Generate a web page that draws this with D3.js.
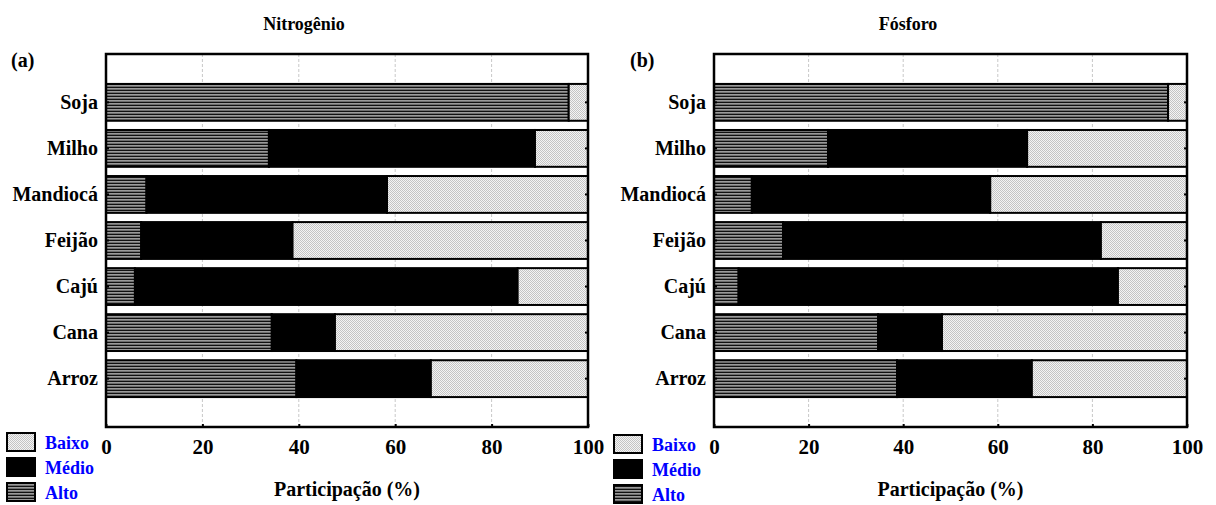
<!DOCTYPE html>
<html>
<head>
<meta charset="utf-8">
<script src="https://cdn.jsdelivr.net/npm/d3@7"></script>
<style>
  html, body { margin: 0; padding: 0; background: #fff; }
  svg text { font-family: "Liberation Serif", "DejaVu Serif", "Times New Roman", serif !important; font-weight: bold; }
</style>
</head>
<body>
<svg id="chart" width="1216" height="505"></svg>
<script>
// Culturas (de cima para baixo)
const culturas = ["Soja", "Milho", "Mandiocá", "Feijão", "Cajú", "Cana", "Arroz"];
const classes = ["Alto", "Médio", "Baixo"];
const legendaOrdem = ["Baixo", "Médio", "Alto"];
const ticksX = [0, 20, 40, 60, 80, 100];

// Participação (%) por classe — Nitrogênio
const nitroAlto  = [96, 33.8, 8.4, 7.3, 6.0, 34.4, 39.5];
const nitroMedio = [0, 55.2, 49.9, 31.4, 79.4, 13.1, 27.9];
const nitroBaixo = [4, 11.0, 41.7, 61.3, 14.6, 52.5, 32.6];

// Participação (%) por classe — Fósforo
const fosAlto  = [96, 24.1, 8.0, 14.6, 5.2, 34.7, 38.7];
const fosMedio = [0, 42.1, 50.4, 67.2, 80.2, 13.5, 28.5];
const fosBaixo = [4, 33.8, 41.6, 18.2, 14.6, 51.8, 32.8];

const FONTE = "'Liberation Serif', 'DejaVu Serif', 'Times New Roman', serif";

const svg = d3.select("#chart");
const defs = svg.append("defs");

// Hachura horizontal (Alto)
const pAlto = defs.append("pattern").attr("id", "padAlto")
  .attr("patternUnits", "userSpaceOnUse").attr("width", 4).attr("height", 3);
pAlto.append("rect").attr("width", 4).attr("height", 1).attr("y", 0).attr("fill", "#111");
pAlto.append("rect").attr("width", 4).attr("height", 1).attr("y", 1).attr("fill", "#9a9a9a");
pAlto.append("rect").attr("width", 4).attr("height", 1).attr("y", 2).attr("fill", "#6e6e6e");

// Pontilhado claro (Baixo)
const pBaixo = defs.append("pattern").attr("id", "padBaixo")
  .attr("patternUnits", "userSpaceOnUse").attr("width", 2).attr("height", 2);
pBaixo.append("rect").attr("width", 2).attr("height", 2).attr("fill", "#f4f4f4");
pBaixo.append("rect").attr("width", 1).attr("height", 1).attr("x", 0).attr("y", 0).attr("fill", "#c4c4c4");
pBaixo.append("rect").attr("width", 1).attr("height", 1).attr("x", 1).attr("y", 1).attr("fill", "#c4c4c4");

const preenchimento = { "Alto": "url(#padAlto)", "Médio": "#000", "Baixo": "url(#padBaixo)" };

function painel(cfg) {
  const g = svg.append("g");
  const x = d3.scaleLinear().domain([0, 100]).range([cfg.x0, cfg.x1]);
  const y = d3.scaleBand().domain(culturas).range([cfg.y0, cfg.y1])
    .paddingInner(0.2).paddingOuter(0.65);

  // Linhas de grade
  g.append("g").selectAll("line").data(ticksX.slice(1, -1)).join("line")
    .attr("x1", d => x(d)).attr("x2", d => x(d))
    .attr("y1", cfg.y0).attr("y2", cfg.y1)
    .attr("stroke", "#c8c8c8").attr("stroke-width", 1)
    .attr("stroke-dasharray", "3,2");

  // Barras empilhadas
  const linhas = culturas.map((c, i) => ({
    cultura: c, Alto: cfg.alto[i], "Médio": cfg.medio[i], Baixo: cfg.baixo[i]
  }));
  const pilha = d3.stack().keys(classes)(linhas);
  g.append("g").selectAll("g").data(pilha).join("g")
    .attr("fill", s => preenchimento[s.key])
    .selectAll("rect").data(s => s.filter(d => d[1] - d[0] > 0)).join("rect")
    .attr("x", d => x(d[0]))
    .attr("width", d => x(d[1]) - x(d[0]))
    .attr("y", d => y(d.data.cultura))
    .attr("height", y.bandwidth())
    .attr("stroke", "#000").attr("stroke-width", 2);

  // Moldura
  g.append("rect").attr("x", cfg.x0).attr("y", cfg.y0)
    .attr("width", cfg.x1 - cfg.x0).attr("height", cfg.y1 - cfg.y0)
    .attr("fill", "none").attr("stroke", "#000").attr("stroke-width", 2.5);

  // Eixo X (marcas internas curtas)
  const eixoX = g.append("g").attr("transform", `translate(0,${cfg.y1})`)
    .call(d3.axisBottom(x).tickValues(ticksX).tickSize(-3).tickPadding(12).tickFormat(d3.format("d")));
  eixoX.attr("font-family", FONTE);
  eixoX.select(".domain").remove();
  eixoX.selectAll("line").attr("stroke", "#000").attr("stroke-width", 2);
  eixoX.selectAll("text").attr("font-size", 21).attr("fill", "#000").attr("font-weight", "bold");

  // Eixo Y (categorias)
  const eixoY = g.append("g").attr("transform", `translate(${cfg.x0},0)`)
    .call(d3.axisLeft(y).tickSize(-3).tickPadding(8));
  eixoY.attr("font-family", FONTE);
  eixoY.select(".domain").remove();
  eixoY.selectAll("line").attr("stroke", "#000").attr("stroke-width", 2);
  eixoY.selectAll("text").attr("font-size", 20).attr("fill", "#000").attr("font-weight", "bold");
  const espelho = g.append("g").attr("transform", `translate(${cfg.x1},0)`)
    .call(d3.axisRight(y).tickSize(-3).tickFormat(""));
  espelho.select(".domain").remove();
  espelho.selectAll("line").attr("stroke", "#000").attr("stroke-width", 2);

  // Títulos
  g.append("text").attr("x", cfg.tituloX).attr("y", 30)
    .attr("text-anchor", "middle").attr("font-size", 18).text(cfg.titulo);
  g.append("text").attr("x", cfg.letraX).attr("y", 67)
    .attr("font-size", 20).text(cfg.letra);
  g.append("text").attr("x", (cfg.x0 + cfg.x1) / 2).attr("y", 496)
    .attr("text-anchor", "middle").attr("font-size", 20).text("Participação (%)");

  // Legenda
  const leg = g.append("g");
  legendaOrdem.forEach((k, i) => {
    const yy = cfg.legY + i * 25;
    leg.append("rect").attr("x", cfg.legX).attr("y", yy)
      .attr("width", 28).attr("height", 18)
      .attr("fill", preenchimento[k]).attr("stroke", "#000").attr("stroke-width", 2);
    leg.append("text").attr("x", cfg.legX + 38).attr("y", yy + 16)
      .attr("font-size", 18).attr("fill", "#0000ff").text(k);
  });
}

painel({
  x0: 106, x1: 588, y0: 54, y1: 427,
  alto: nitroAlto, medio: nitroMedio, baixo: nitroBaixo,
  titulo: "Nitrogênio", tituloX: 304, letra: "(a)", letraX: 11,
  legX: 7, legY: 433
});
painel({
  x0: 714, x1: 1187, y0: 54, y1: 427,
  alto: fosAlto, medio: fosMedio, baixo: fosBaixo,
  titulo: "Fósforo", tituloX: 908, letra: "(b)", letraX: 630,
  legX: 614, legY: 435
});
</script>
</body>
</html>
